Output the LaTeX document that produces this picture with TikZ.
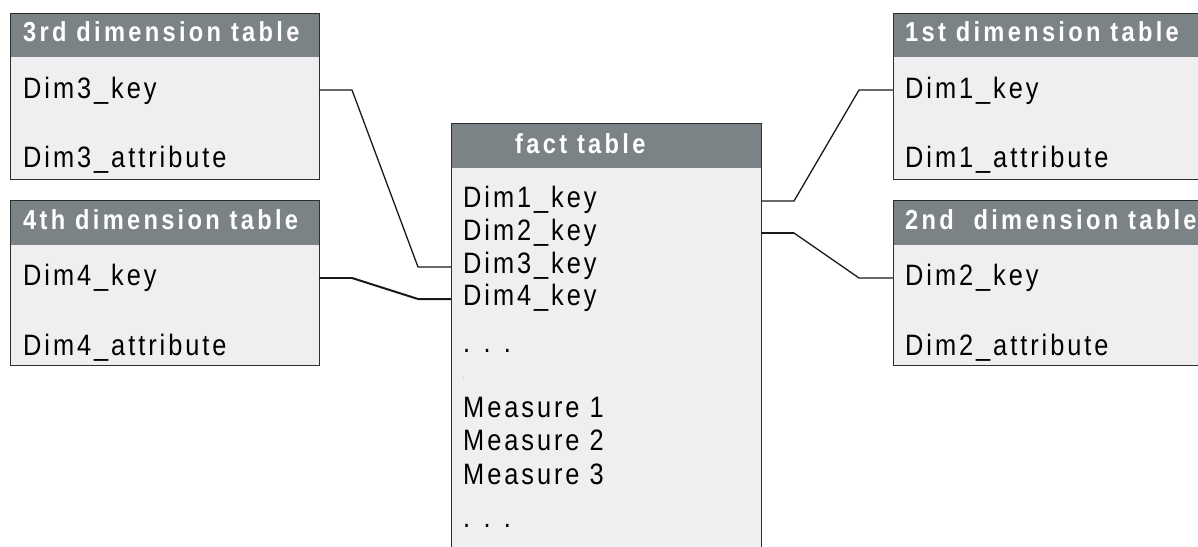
\documentclass[tikz,border=0pt]{standalone}
\usepackage{fontspec}
\setmainfont{Liberation Sans}[FakeStretch=0.86, LetterSpace=10]
\newfontfamily\hdrfont{Liberation Sans}[FakeStretch=0.86, LetterSpace=12]
\definecolor{hdr}{HTML}{7B8386}
\definecolor{bodyc}{HTML}{EFEFF1}
\definecolor{edge}{HTML}{2E2E2E}
\begin{document}
\begin{tikzpicture}[x=1pt,y=-1pt,
  boxbody/.style={draw=edge, line width=0.9pt, fill=bodyc, anchor=north west, inner sep=0pt, outer sep=0pt},
  boxhead/.style={fill=hdr, anchor=north west, inner sep=0pt, outer sep=0pt},
  headtxt/.style={anchor=base west, inner sep=0pt, text=white, font=\hdrfont\fontsize{27.5}{30}\selectfont\bfseries},
  rowtxt/.style={anchor=base west, inner sep=0pt, text=black, font=\fontsize{29.5}{33}\selectfont},
  link/.style={draw=black!90, line width=1.3pt, line join=round},
  thicklink/.style={draw=black!90, line width=2pt, line join=round}]
\useasboundingbox (0,0) rectangle (1198,546);
\begin{scope}
\clip (0,0) rectangle (1198,546);
% 3rd dimension table
\node[boxbody, minimum width=309pt, minimum height=166pt] (t3) at (10,13) {};
\node[boxhead, minimum width=308pt, minimum height=43pt] (t3h) at (10.5,13.5) {};
\draw[edge, line width=0.9pt] (t3.north west) rectangle (t3.south east);
\node[headtxt] (t3t) at (23,41) {3rd dimension table};
\node[rowtxt] (t3k) at (23,98) {Dim3\_key};
\node[rowtxt] (t3a) at (23,167) {Dim3\_attribute};
% 4th dimension table
\node[boxbody, minimum width=309pt, minimum height=165pt] (t4) at (10,200) {};
\node[boxhead, minimum width=308pt, minimum height=44pt] (t4h) at (10.5,200.5) {};
\draw[edge, line width=0.9pt] (t4.north west) rectangle (t4.south east);
\node[headtxt] (t4t) at (23,229) {4th dimension table};
\node[rowtxt] (t4k) at (23,285) {Dim4\_key};
\node[rowtxt] (t4a) at (23,355) {Dim4\_attribute};
% fact table
\node[boxbody, minimum width=310pt, minimum height=440pt] (ft) at (451,123) {};
\node[boxhead, minimum width=309pt, minimum height=44pt] (fth) at (451.5,123.5) {};
\draw[edge, line width=0.9pt] (ft.north west) rectangle (ft.south east);
\node[headtxt] (ftt) at (515,153) {fact table};
\node[rowtxt] (f1) at (463,207) {Dim1\_key};
\node[rowtxt] (f2) at (463,240) {Dim2\_key};
\node[rowtxt] (f3) at (463,273) {Dim3\_key};
\node[rowtxt] (f4) at (463,305) {Dim4\_key};
\node[rowtxt] (fd1) at (463,352) {. . .};
\node[anchor=base west, inner sep=0pt, font=\fontsize{5}{6}\selectfont] (fdot) at (463,378) {.};
\node[rowtxt] (m1) at (463,417) {Measure 1};
\node[rowtxt] (m2) at (463,450) {Measure 2};
\node[rowtxt] (m3) at (463,484) {Measure 3};
\node[rowtxt] (fd2) at (463,527) {. . .};
% 1st dimension table
\node[boxbody, minimum width=330pt, minimum height=166pt] (t1) at (893,13) {};
\node[boxhead, minimum width=329pt, minimum height=43pt] (t1h) at (893.5,13.5) {};
\draw[edge, line width=0.9pt] (t1.north west) rectangle (t1.south east);
\node[headtxt] (t1t) at (905,41) {1st dimension table};
\node[rowtxt] (t1k) at (905,98) {Dim1\_key};
\node[rowtxt] (t1a) at (905,167) {Dim1\_attribute};
% 2nd dimension table
\node[boxbody, minimum width=330pt, minimum height=165pt] (t2) at (893,200) {};
\node[boxhead, minimum width=329pt, minimum height=44pt] (t2h) at (893.5,200.5) {};
\draw[edge, line width=0.9pt] (t2.north west) rectangle (t2.south east);
\node[headtxt] (t2t) at (905,229) {2nd\ \ dimension table};
\node[rowtxt] (t2k) at (905,285) {Dim2\_key};
\node[rowtxt] (t2a) at (905,355) {Dim2\_attribute};
\end{scope}
% connectors
\draw[link] (t3.east |- 0,90) -- (352,90) -- (418,267) -- (ft.west |- 0,267);
\draw[link] (t4.east |- 0,278) -- (352,278);
\draw[thicklink] (352,278) -- (418,299) -- (ft.west |- 0,299);
\draw[link] (ft.east |- 0,201) -- (794,201) -- (859,90) -- (t1.west |- 0,90);
\draw[thicklink] (ft.east |- 0,233) -- (794,233);
\draw[link] (794,233) -- (859,278) -- (t2.west |- 0,278);
\end{tikzpicture}
\end{document}
